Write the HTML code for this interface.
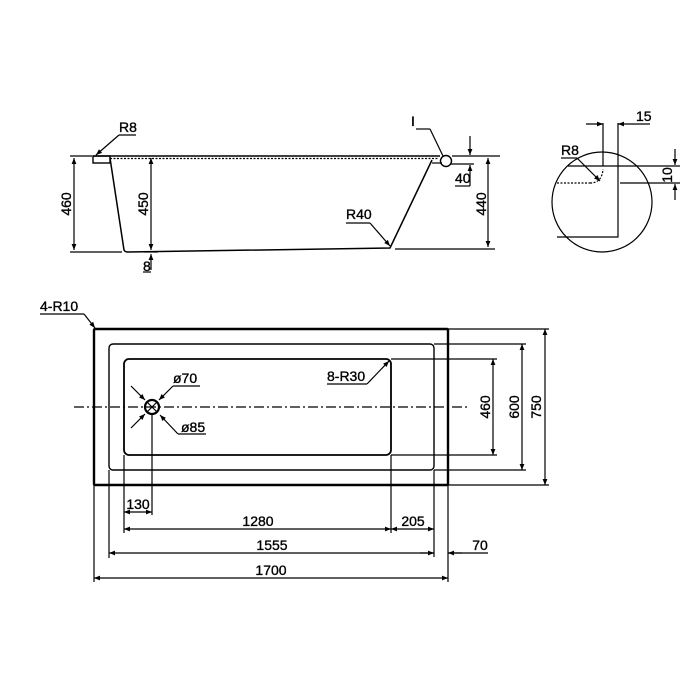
<!DOCTYPE html>
<html><head><meta charset="utf-8"><style>
html,body{margin:0;padding:0;background:#fff;}
svg{display:block;}
text{font-family:"Liberation Sans",sans-serif;font-size:14px;fill:#000;stroke:#000;stroke-width:0.35;}
</style></head><body>
<svg width="700" height="700" viewBox="0 0 700 700" xmlns="http://www.w3.org/2000/svg">
<defs>
<marker id="a" viewBox="0 0 10 10" refX="10" refY="5" markerWidth="8" markerHeight="6" orient="auto-start-reverse" markerUnits="userSpaceOnUse"><path d="M0,1 L10,5 L0,9z" fill="#000"/></marker>
</defs>
<g stroke="#000" fill="none" stroke-width="1.2">
<!-- side view -->
<line x1="93" y1="156" x2="440" y2="156" stroke-width="1.6"/>
<line x1="110" y1="158.5" x2="438" y2="158.5" stroke-dasharray="2,1.5"/>
<rect x="93" y="156" width="17" height="7" stroke-width="1.4"/>
<path d="M110,158 L124,250 Q125,252 128,252 L390,248 L432,160" stroke-width="1.5"/>
<line x1="432" y1="163" x2="442" y2="163"/>
<circle cx="446" cy="161" r="5.5" stroke-width="1.4"/>
<line x1="452" y1="156" x2="500" y2="156"/>
<line x1="450" y1="164" x2="474" y2="164"/>
<line x1="70" y1="156" x2="92" y2="156"/>
<line x1="70" y1="252" x2="122" y2="252"/>
<line x1="395" y1="249" x2="495" y2="249"/>
<line x1="74" y1="158" x2="74" y2="250" marker-start="url(#a)" marker-end="url(#a)"/>
<line x1="151" y1="158" x2="151" y2="250" marker-start="url(#a)" marker-end="url(#a)"/>
<line x1="488" y1="158" x2="488" y2="247" marker-start="url(#a)" marker-end="url(#a)"/>
<line x1="470" y1="136" x2="470" y2="155" marker-end="url(#a)"/>
<line x1="470" y1="186" x2="470" y2="165" marker-end="url(#a)"/>
<line x1="455" y1="186" x2="470" y2="186"/>
<line x1="144" y1="252" x2="158" y2="252"/>
<line x1="151" y1="270" x2="151" y2="254" marker-end="url(#a)"/>
<line x1="143" y1="272" x2="151" y2="272"/>
<line x1="119" y1="135" x2="136" y2="135"/>
<line x1="119" y1="135" x2="96" y2="155" marker-end="url(#a)"/>
<line x1="416" y1="129" x2="430" y2="129"/>
<line x1="430" y1="129" x2="443" y2="156"/>
<line x1="346" y1="223" x2="370" y2="223"/>
<line x1="370" y1="223" x2="390" y2="246" marker-end="url(#a)"/>
<!-- detail circle -->
<circle cx="602" cy="202" r="50"/>
<path d="M557,237 L618,237 L618,123"/>
<line x1="603" y1="166" x2="603" y2="123"/>
<line x1="568" y1="166" x2="680" y2="166"/>
<line x1="557" y1="183" x2="590" y2="183" stroke-dasharray="2,1.5"/>
<path d="M590,183 Q602,183 603,169" stroke-dasharray="2,1.5"/>
<line x1="586" y1="124" x2="603" y2="124" marker-end="url(#a)"/>
<line x1="650" y1="124" x2="618" y2="124" marker-end="url(#a)"/>
<line x1="620" y1="183" x2="680" y2="183"/>
<line x1="675" y1="149" x2="675" y2="165" marker-end="url(#a)"/>
<line x1="675" y1="200" x2="675" y2="184" marker-end="url(#a)"/>
<line x1="561" y1="158" x2="577" y2="158"/>
<line x1="577" y1="158" x2="600" y2="181" marker-end="url(#a)"/>
<!-- plan view -->
<rect x="94" y="329" width="354" height="156" rx="1" stroke-width="2.4"/>
<rect x="109" y="344" width="325" height="126" rx="4" stroke-width="1.4"/>
<rect x="124" y="359" width="267" height="96" rx="5" stroke-width="1.8"/>
<line x1="74" y1="407" x2="470" y2="407" stroke-dasharray="10,3,2,3"/>
<circle cx="152" cy="407" r="7" stroke-width="2.2"/>
<line x1="147" y1="402" x2="157" y2="412"/>
<line x1="147" y1="412" x2="157" y2="402"/>
<line x1="131" y1="386" x2="145" y2="400" marker-end="url(#a)"/>
<line x1="173" y1="386" x2="159" y2="400" marker-end="url(#a)"/>
<line x1="173" y1="386" x2="200" y2="386"/>
<line x1="131" y1="428" x2="145" y2="414" marker-end="url(#a)"/>
<line x1="178" y1="434" x2="160" y2="415" marker-end="url(#a)"/>
<line x1="178" y1="434" x2="206" y2="434"/>
<line x1="40" y1="314" x2="84" y2="314"/>
<line x1="84" y1="314" x2="95" y2="328" marker-end="url(#a)"/>
<line x1="327" y1="384" x2="367" y2="384"/>
<line x1="367" y1="384" x2="389" y2="361" marker-end="url(#a)"/>
<!-- extension lines -->
<line x1="94" y1="485" x2="94" y2="582"/>
<line x1="109" y1="470" x2="109" y2="558"/>
<line x1="124" y1="455" x2="124" y2="533"/>
<line x1="152" y1="414" x2="152" y2="515"/>
<line x1="391" y1="455" x2="391" y2="533"/>
<line x1="434" y1="470" x2="434" y2="557"/>
<line x1="448" y1="485" x2="448" y2="582"/>
<line x1="391" y1="359" x2="497" y2="359"/>
<line x1="391" y1="455" x2="497" y2="455"/>
<line x1="434" y1="344" x2="526" y2="344"/>
<line x1="434" y1="470" x2="526" y2="470"/>
<line x1="448" y1="329" x2="549" y2="329"/>
<line x1="448" y1="485" x2="549" y2="485"/>
<!-- dims -->
<line x1="124" y1="512" x2="152" y2="512" marker-start="url(#a)" marker-end="url(#a)"/>
<line x1="124" y1="529" x2="391" y2="529" marker-start="url(#a)" marker-end="url(#a)"/>
<line x1="391" y1="529" x2="434" y2="529" marker-start="url(#a)" marker-end="url(#a)"/>
<line x1="109" y1="553" x2="434" y2="553" marker-start="url(#a)" marker-end="url(#a)"/>
<line x1="448" y1="553" x2="488" y2="553"/>
<line x1="420" y1="553" x2="434" y2="553"/>
<line x1="462" y1="553" x2="448" y2="553" marker-end="url(#a)"/>
<line x1="94" y1="578" x2="448" y2="578" marker-start="url(#a)" marker-end="url(#a)"/>
<line x1="493" y1="359" x2="493" y2="455" marker-start="url(#a)" marker-end="url(#a)"/>
<line x1="522" y1="344" x2="522" y2="470" marker-start="url(#a)" marker-end="url(#a)"/>
<line x1="545" y1="329" x2="545" y2="485" marker-start="url(#a)" marker-end="url(#a)"/>
</g>
<text x="119" y="132">R8</text>
<text x="411" y="126">I</text>
<text x="346" y="219">R40</text>
<text x="455" y="183">40</text>
<text x="143" y="271">8</text>
<text transform="translate(71,204) rotate(-90)" text-anchor="middle">460</text>
<text transform="translate(148,204) rotate(-90)" text-anchor="middle">450</text>
<text transform="translate(486,204) rotate(-90)" text-anchor="middle">440</text>
<text x="561" y="155">R8</text>
<text x="636" y="121">15</text>
<text transform="translate(672,175) rotate(-90)" text-anchor="middle">10</text>
<text x="40" y="311">4-R10</text>
<text x="327" y="381">8-R30</text>
<text x="173" y="383">ø70</text>
<text x="181" y="432">ø85</text>
<text x="138" y="509" text-anchor="middle">130</text>
<text x="258" y="526" text-anchor="middle">1280</text>
<text x="413" y="526" text-anchor="middle">205</text>
<text x="272" y="550" text-anchor="middle">1555</text>
<text x="480" y="550" text-anchor="middle">70</text>
<text x="271" y="575" text-anchor="middle">1700</text>
<text transform="translate(490,407) rotate(-90)" text-anchor="middle">460</text>
<text transform="translate(519,407) rotate(-90)" text-anchor="middle">600</text>
<text transform="translate(541,407) rotate(-90)" text-anchor="middle">750</text>
</svg>
</body></html>
